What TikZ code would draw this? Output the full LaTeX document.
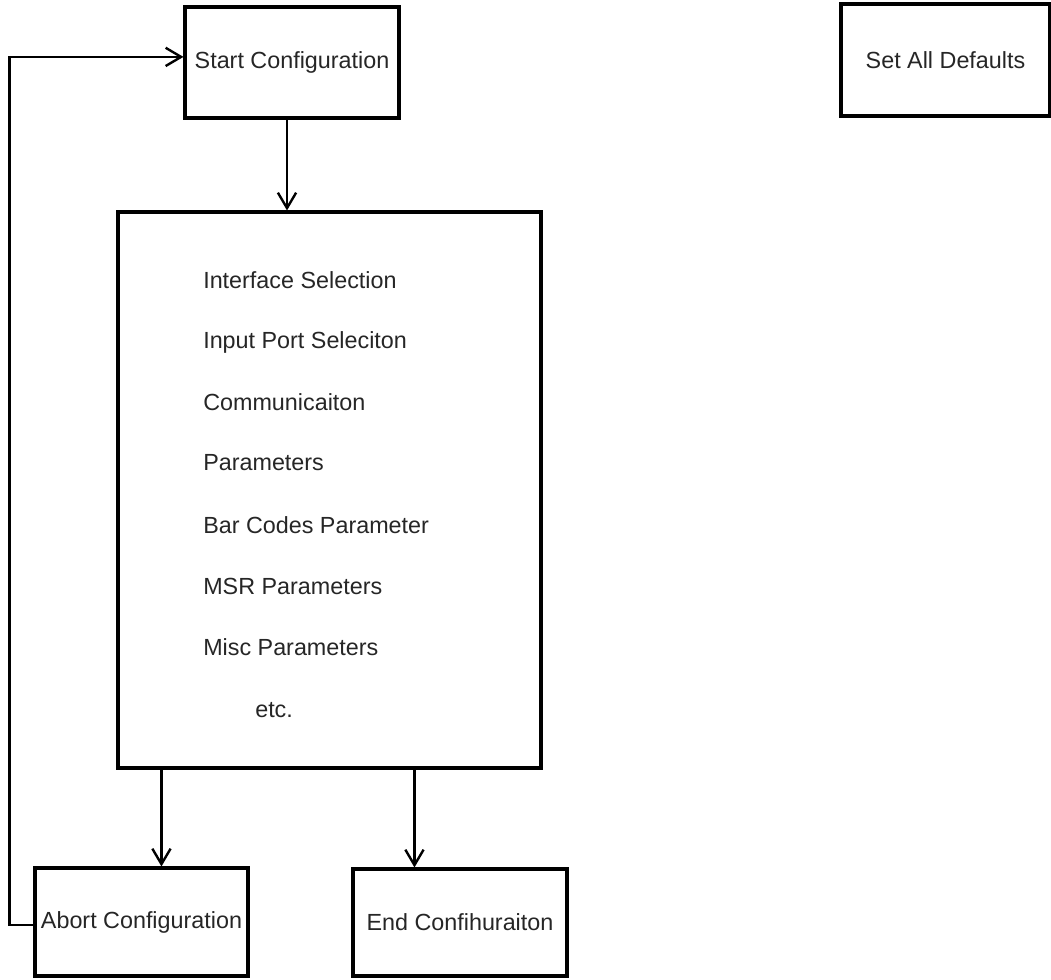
\documentclass[tikz,border=0pt]{standalone}
\usepackage{fontspec}
\setmainfont{Liberation Sans}
\usetikzlibrary{arrows.meta, positioning, calc}

\begin{document}
\begin{tikzpicture}[
    stage/.style={rectangle, draw=black, line width=2.2pt, inner sep=0pt, text centered, font=\fontsize{16.6}{20}\selectfont, text=black!85},
    item/.style={anchor=west, inner sep=0pt, font=\fontsize{16.6}{20}\selectfont, text=black!85},
    arrow/.style={line width=1.7pt, -{Straight Barb[length=11pt, width=13pt]}}
]
\useasboundingbox (0,0) rectangle (26.275,-24.475);

% Main flow
\node[stage, minimum width=5.35cm, minimum height=2.775cm] (start) at (7.3,-1.5625) {Start Configuration};
\node[stage, minimum width=5.225cm, minimum height=2.8cm] (defaults) at (23.6375,-1.5) {Set All Defaults};
\node[stage, minimum width=10.575cm, minimum height=13.9cm] (params) at (8.2375,-12.25) {};

% Parameter list
\node[item] (iface) at (5.075,-7.0) {Interface Selection};
\node[item] (port) at (5.075,-8.55) {Input Port Seleciton};
\node[item] (comm) at (5.075,-10.05) {Communicaiton};
\node[item] (par) at (5.075,-11.575) {Parameters};
\node[item] (barcode) at (5.075,-13.125) {Bar Codes Parameter};
\node[item] (msr) at (5.075,-14.65) {MSR Parameters};
\node[item] (misc) at (5.075,-16.175) {Misc Parameters};
\node[item] (etc) at (6.375,-17.75) {etc.};

% Exits
\node[stage, minimum width=5.325cm, minimum height=2.7cm] (abort) at (3.5375,-23.05) {Abort Configuration};
\node[stage, minimum width=5.35cm, minimum height=2.675cm] (finish) at (11.5,-23.0625) {End Confihuraiton};

% Connections
\draw[arrow] ([xshift=-0.125cm]start.south) -- ([xshift=-0.125cm]start.south |- params.north);
\draw[arrow] ([xshift=1.125cm]params.south west) -- ([xshift=1.125cm]params.south west |- abort.north);
\draw[arrow] ([xshift=7.45cm]params.south west) -- ([xshift=7.45cm]params.south west |- finish.north);
\draw[arrow] ([yshift=-0.075cm]abort.west) -- ++(-0.6,0) |- ([yshift=0.14cm]start.west);

\end{tikzpicture}
\end{document}
